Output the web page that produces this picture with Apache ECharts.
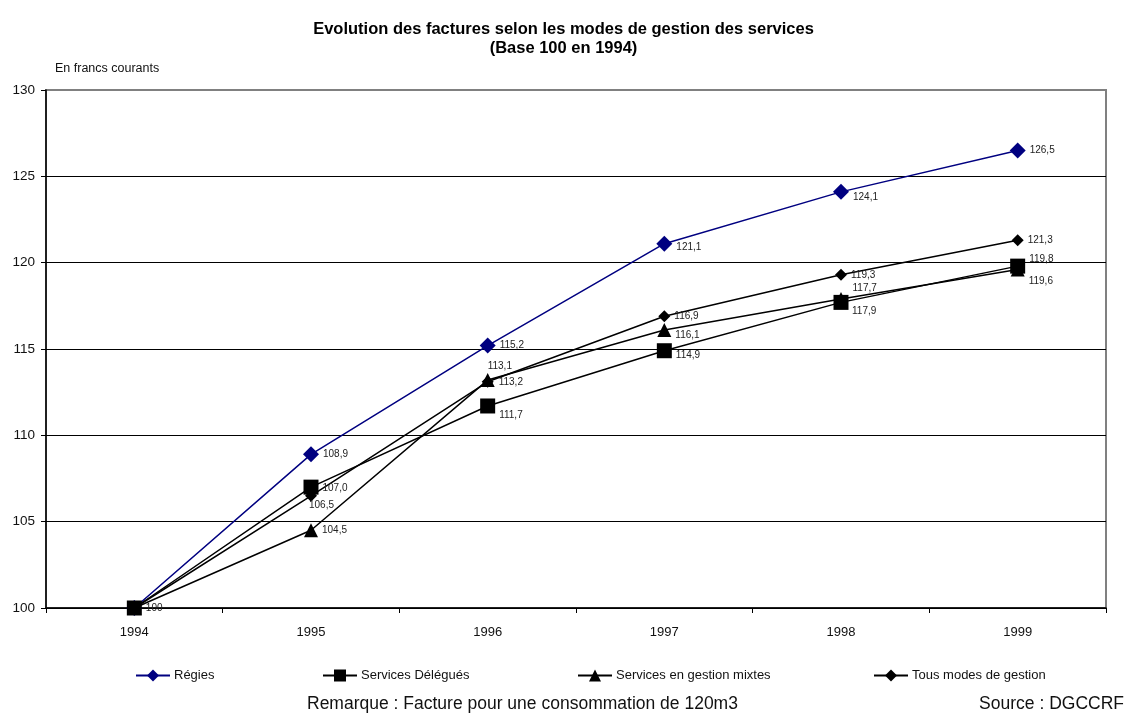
<!DOCTYPE html>
<html>
<head>
<meta charset="utf-8">
<title>Evolution des factures</title>
<script src="https://cdn.jsdelivr.net/npm/echarts@6/dist/echarts.min.js"></script>
<style>
  html, body { margin: 0; padding: 0; background: #fff; }
  #chart { width: 1127px; height: 715px; }
</style>
</head>
<body>
<div id="chart"></div>
<script>
// Années (axe des catégories)
const years = ['1994', '1995', '1996', '1997', '1998', '1999'];

// Indices des factures, base 100 en 1994
const regies = [100, 108.9, 115.2, 121.1, 124.1, 126.5];
const delegues = [100, 107.0, 111.7, 114.9, 117.7, 119.8];
const mixtes = [100, 104.5, 113.2, 116.1, 117.9, 119.6];
const tousModes = [100, 106.5, 113.1, 116.9, 119.3, 121.3];

// Graduations de l'axe des valeurs
const yTicks = { min: 100, max: 130, step: 5 };

const FONT = '"Liberation Sans", Arial, sans-serif';

// Décalage des étiquettes [dx, dy] par point ; null = pas d'étiquette
const labelShift = {
  regies:   [null, [0, 0], [0, 0], [0, 4], [0, 5], [0, 0]],
  delegues: [[0, 0], [0, 1], [0, 9], [0, 5], [0, -14], [0, -7]],
  mixtes:   [null, [0, 0], [0, 2], [0, 5], [0, 12], [0, 12]],
  tous:     [null, [-12, 9], [-10, -16], [0, 0], [0, 0], [0, 0]]
};

function frNum(v) {
  return v === 100 ? '100' : v.toFixed(1).replace('.', ',');
}

function pointsFor(values, shifts) {
  return values.map((v, i) => {
    const s = shifts[i];
    if (!s) return { value: v, label: { show: false } };
    return { value: v, label: { show: true, offset: s } };
  });
}

function lineSeries(name, values, shifts, color, symbol, size) {
  return {
    name: name,
    type: 'line',
    data: pointsFor(values, shifts),
    symbol: symbol,
    symbolSize: size,
    showAllSymbol: true,
    lineStyle: { color: color, width: 1.5 },
    itemStyle: { color: color, borderWidth: 0 },
    emphasis: { disabled: true },
    label: {
      position: 'right',
      distance: 4,
      fontFamily: FONT,
      fontSize: 10,
      color: '#222',
      formatter: p => frNum(p.value)
    },
    animation: false
  };
}

const splitColors = [];
for (let v = yTicks.min; v <= yTicks.max; v += yTicks.step) {
  splitColors.push(v === yTicks.max ? '#808080' : '#000');
}

function legendAt(name, left) {
  return {
    data: [name],
    left: left,
    top: 669,
    padding: 0,
    itemWidth: 34,
    itemHeight: 15,
    itemGap: 0,
    textStyle: { fontFamily: FONT, fontSize: 13, color: '#111', padding: [0, 0, 0, -1] },
    selectedMode: false
  };
}

const chart = echarts.init(document.getElementById('chart'), null, { renderer: 'canvas' });

chart.setOption({
  backgroundColor: '#fff',
  title: {
    text: 'Evolution des factures selon les modes de gestion des services\n(Base 100 en 1994)',
    left: 'center',
    top: 15,
    textStyle: {
      fontFamily: FONT,
      fontSize: 16.5,
      fontWeight: 'bold',
      color: '#000',
      lineHeight: 19
    }
  },
  legend: [
    legendAt('Régies', 135),
    legendAt('Services Délégués', 322),
    legendAt('Services en gestion mixtes', 577),
    legendAt('Tous modes de gestion', 873)
  ],
  grid: {
    left: 46,
    right: 21,
    top: 90,
    bottom: 107,
    show: true,
    borderColor: '#808080',
    borderWidth: 2,
    backgroundColor: 'transparent'
  },
  xAxis: {
    type: 'category',
    data: years,
    boundaryGap: true,
    axisLine: { lineStyle: { color: '#000', width: 1.5 } },
    axisTick: { show: true, length: 5, lineStyle: { color: '#000' } },
    axisLabel: { fontFamily: FONT, fontSize: 13, color: '#111', margin: 18 },
    splitLine: { show: false }
  },
  yAxis: {
    type: 'value',
    min: yTicks.min,
    max: yTicks.max,
    interval: yTicks.step,
    axisLine: { show: true, lineStyle: { color: '#000', width: 1.5 } },
    axisTick: { show: true, length: 5, lineStyle: { color: '#000' } },
    axisLabel: { fontFamily: FONT, fontSize: 13.5, color: '#111', margin: 11 },
    splitLine: { show: true, lineStyle: { color: splitColors, width: 1 } }
  },
  series: [
    lineSeries('Régies', regies, labelShift.regies, '#000080', 'diamond', 16),
    lineSeries('Services Délégués', delegues, labelShift.delegues, '#000', 'rect', 15),
    lineSeries('Services en gestion mixtes', mixtes, labelShift.mixtes, '#000', 'triangle', 14),
    lineSeries('Tous modes de gestion', tousModes, labelShift.tous, '#000', 'diamond', 12)
  ],
  graphic: [
    {
      type: 'text',
      left: 55,
      top: 62,
      style: {
        text: 'En francs courants',
        fontFamily: FONT,
        fontSize: 12.5,
        fill: '#111'
      }
    },
    {
      type: 'text',
      left: 307,
      top: 695,
      style: {
        text: 'Remarque : Facture pour une consommation de 120m3',
        fontFamily: FONT,
        fontSize: 17.5,
        fill: '#111'
      }
    },
    {
      type: 'text',
      right: 3,
      top: 695,
      style: {
        text: 'Source : DGCCRF',
        fontFamily: FONT,
        fontSize: 17.5,
        fill: '#111'
      }
    }
  ]
});
</script>
</body>
</html>
